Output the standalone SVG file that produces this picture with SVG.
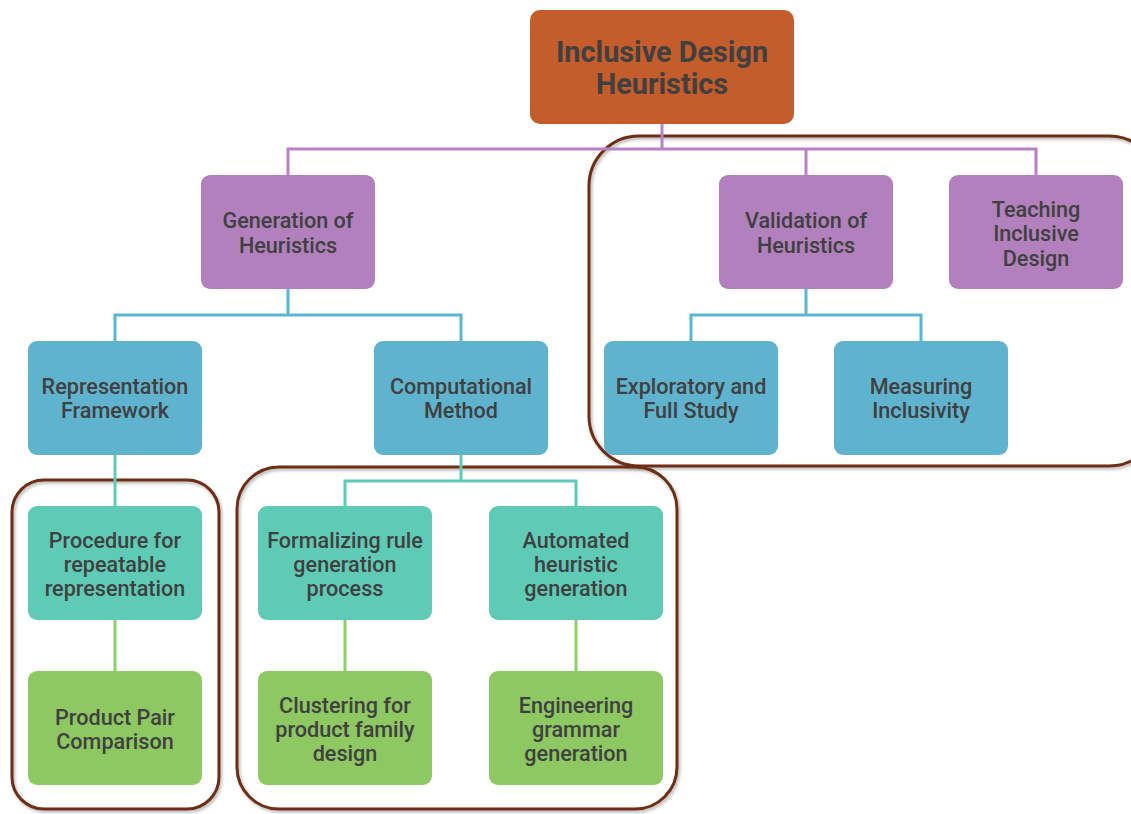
<svg xmlns="http://www.w3.org/2000/svg" width="1131" height="814" viewBox="0 0 1131 814">
  <defs>
    <filter id="soft" x="-5%" y="-5%" width="110%" height="110%">
      <feDropShadow dx="1.5" dy="2" stdDeviation="1.5" flood-color="#000" flood-opacity="0.3"/>
    </filter>
  </defs>
  <style>
    .box { stroke: none; }
    .root { fill: #C45C2C; }
    .l1 { fill: #B180BD; }
    .l2 { fill: #5FB3CE; }
    .l3 { fill: #5FCBB7; }
    .l4 { fill: #8DC862; }
    text { font-family: Roboto, "Liberation Sans", sans-serif; font-weight: 500; font-size: 21.6px; fill: #404040; text-anchor: middle; }
    .title { font-size: 28.8px; font-weight: 700; }
    .c1 { stroke: #B981C6; stroke-width: 3; fill: none; }
    .c2 { stroke: #5BB6D2; stroke-width: 3; fill: none; }
    .c3 { stroke: #5ECAB7; stroke-width: 3; fill: none; }
    .c4 { stroke: #8ED06A; stroke-width: 3; fill: none; }
    .frame { fill: none; stroke: #6E2F14; stroke-width: 3; filter: url(#soft); }
  </style>

  <!-- grouping frames -->
  <g id="frames">
    <rect class="frame" x="589" y="136" width="570" height="330" rx="50"/>
    <rect class="frame" x="12" y="480" width="207" height="329" rx="32"/>
    <rect class="frame" x="237" y="467" width="440" height="342" rx="42"/>
  </g>

  <!-- connectors -->
  <g id="connectors">
    <path class="c1" d="M662,124 V149 M288,175 V149 H1036 V175 M806,149 V175"/>
    <path class="c2" d="M288,289 V315 M115,341 V315 H461 V341"/>
    <path class="c2" d="M806,289 V315 M691,341 V315 H921 V341"/>
    <path class="c3" d="M115,455 V506"/>
    <path class="c3" d="M461,455 V481 M345,506 V481 H576 V506"/>
    <path class="c4" d="M115,620 V671 M345,620 V671 M576,620 V671"/>
  </g>

  <g id="root">
    <rect class="box root" x="530" y="10" width="264" height="114" rx="10"/>
    <text class="title" x="662" y="52" dy="0.36em">Inclusive Design</text>
    <text class="title" x="662" y="84" dy="0.36em">Heuristics</text>
  </g>

  <g id="generation">
    <rect class="box l1" x="201" y="175" width="174" height="114" rx="9"/>
    <text x="288" y="220" dy="0.36em">Generation of</text>
    <text x="288" y="245" dy="0.36em">Heuristics</text>
  </g>
  <g id="validation">
    <rect class="box l1" x="719" y="175" width="174" height="114" rx="9"/>
    <text x="806" y="220" dy="0.36em">Validation of</text>
    <text x="806" y="245" dy="0.36em">Heuristics</text>
  </g>
  <g id="teaching">
    <rect class="box l1" x="949" y="175" width="174" height="114" rx="9"/>
    <text x="1036" y="209" dy="0.36em">Teaching</text>
    <text x="1036" y="233" dy="0.36em">Inclusive</text>
    <text x="1036" y="258" dy="0.36em">Design</text>
  </g>

  <g id="representation">
    <rect class="box l2" x="28" y="341" width="174" height="114" rx="9"/>
    <text x="115" y="386" dy="0.36em">Representation</text>
    <text x="115" y="410" dy="0.36em">Framework</text>
  </g>
  <g id="computational">
    <rect class="box l2" x="374" y="341" width="174" height="114" rx="9"/>
    <text x="461" y="386" dy="0.36em">Computational</text>
    <text x="461" y="410" dy="0.36em">Method</text>
  </g>
  <g id="exploratory">
    <rect class="box l2" x="604" y="341" width="174" height="114" rx="9"/>
    <text x="691" y="386" dy="0.36em">Exploratory and</text>
    <text x="691" y="410" dy="0.36em">Full Study</text>
  </g>
  <g id="measuring">
    <rect class="box l2" x="834" y="341" width="174" height="114" rx="9"/>
    <text x="921" y="386" dy="0.36em">Measuring</text>
    <text x="921" y="410" dy="0.36em">Inclusivity</text>
  </g>

  <g id="procedure">
    <rect class="box l3" x="28" y="506" width="174" height="114" rx="9"/>
    <text x="115" y="540" dy="0.36em">Procedure for</text>
    <text x="115" y="564" dy="0.36em">repeatable</text>
    <text x="115" y="588" dy="0.36em">representation</text>
  </g>
  <g id="formalizing">
    <rect class="box l3" x="258" y="506" width="174" height="114" rx="9"/>
    <text x="345" y="540" dy="0.36em">Formalizing rule</text>
    <text x="345" y="564" dy="0.36em">generation</text>
    <text x="345" y="588" dy="0.36em">process</text>
  </g>
  <g id="automated">
    <rect class="box l3" x="489" y="506" width="174" height="114" rx="9"/>
    <text x="576" y="540" dy="0.36em">Automated</text>
    <text x="576" y="564" dy="0.36em">heuristic</text>
    <text x="576" y="588" dy="0.36em">generation</text>
  </g>

  <g id="product-pair">
    <rect class="box l4" x="28" y="671" width="174" height="114" rx="9"/>
    <text x="115" y="717" dy="0.36em">Product Pair</text>
    <text x="115" y="741" dy="0.36em">Comparison</text>
  </g>
  <g id="clustering">
    <rect class="box l4" x="258" y="671" width="174" height="114" rx="9"/>
    <text x="345" y="705" dy="0.36em">Clustering for</text>
    <text x="345" y="729" dy="0.36em">product family</text>
    <text x="345" y="753" dy="0.36em">design</text>
  </g>
  <g id="engineering">
    <rect class="box l4" x="489" y="671" width="174" height="114" rx="9"/>
    <text x="576" y="705" dy="0.36em">Engineering</text>
    <text x="576" y="729" dy="0.36em">grammar</text>
    <text x="576" y="753" dy="0.36em">generation</text>
  </g>
</svg>
